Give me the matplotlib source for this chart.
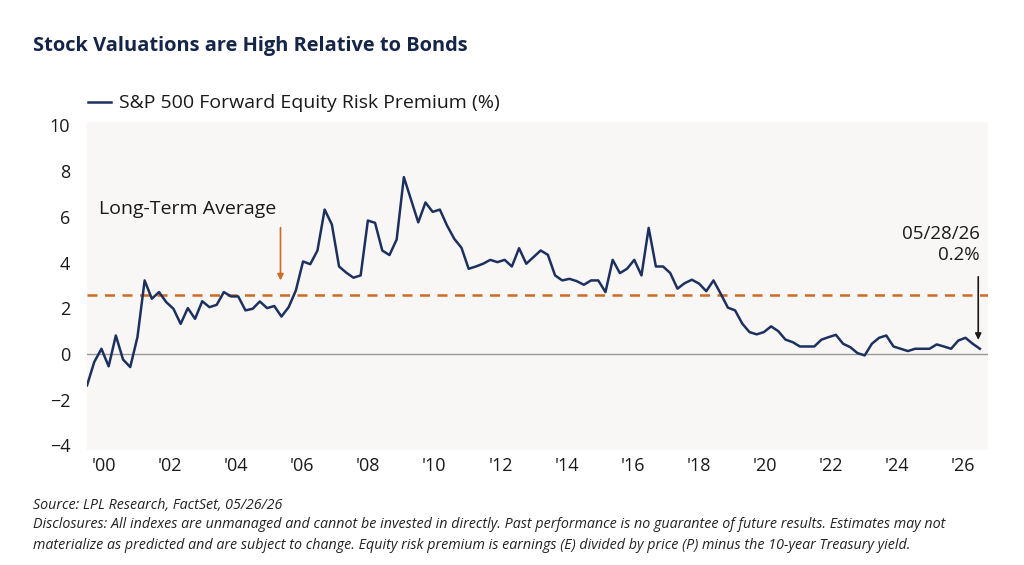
import numpy as np
import matplotlib.pyplot as plt

# S&P 500 forward equity risk premium (%)
erp = [
    -1.37, -0.35, 0.23, -0.54, 0.81, -0.24, -0.57, 0.74, 3.22, 2.42,
    2.71, 2.27, 1.98, 1.32, 2.01, 1.54, 2.31, 2.05, 2.15, 2.71,
    2.52, 2.52, 1.91, 1.98, 2.30, 2.01, 2.10, 1.64, 2.05, 2.78,
    4.05, 3.93, 4.53, 6.32, 5.67, 3.83, 3.56, 3.34, 3.44, 5.84,
    5.74, 4.53, 4.33, 5.01, 7.74, 6.75, 5.76, 6.63, 6.22, 6.32,
    5.62, 5.04, 4.65, 3.73, 3.83, 3.95, 4.12, 4.02, 4.12, 3.83,
    4.63, 3.95, 4.24, 4.53, 4.34, 3.44, 3.22, 3.29, 3.19, 3.03,
    3.22, 3.22, 2.71, 4.12, 3.54, 3.73, 4.12, 3.44, 5.52, 3.83,
    3.83, 3.54, 2.86, 3.10, 3.25, 3.08, 2.75, 3.22, 2.64, 2.03,
    1.91, 1.33, 0.96, 0.86, 0.96, 1.21, 1.00, 0.63, 0.52, 0.33,
    0.33, 0.33, 0.63, 0.74, 0.84, 0.45, 0.30, 0.04, -0.06, 0.45,
    0.71, 0.81, 0.33, 0.23, 0.13, 0.23, 0.23, 0.23, 0.42, 0.33,
    0.23, 0.59, 0.71, 0.45, 0.23,
]
dates = np.linspace(1999.5, 2026.5, len(erp))
long_term_avg = 2.6

xticks = list(range(2000, 2027, 2))
xlabels = ["'%02d" % (y % 100) for y in xticks]
yticks = [-4, -2, 0, 2, 4, 6, 8, 10]

navy = '#1c3160'
orange = '#cf6b22'

plt.rcParams['font.family'] = ['Open Sans', 'DejaVu Sans']

fig = plt.figure(figsize=(10.24, 5.65), dpi=100)
ax = fig.add_axes([0.085, 0.2035, 0.88, 0.5805])
ax.set_facecolor('#f8f7f6')
for s in ax.spines.values():
    s.set_visible(False)

ax.axhline(0, color='#999999', lw=1.0)
ax.axhline(long_term_avg, color=orange, lw=1.8, ls=(0, (4, 3)))
ax.plot(dates, erp, color=navy, lw=1.8, label='S&P 500 Forward Equity Risk Premium (%)')

ax.set_xlim(1999.5, 2026.75)
ax.set_ylim(-4.2, 10.15)
ax.set_xticks(xticks)
ax.set_xticklabels(xlabels)
ax.set_yticks(yticks)
ax.tick_params(length=0, labelsize=13, colors='#1a1a1a')
ax.tick_params(axis='y', pad=12)
ax.tick_params(axis='x', pad=5)

ax.text(1999.85, 6.33, 'Long-Term Average', fontsize=14, va='center', ha='left', color='#1a1a1a')
ax.annotate('', xy=(2005.35, 3.1), xytext=(2005.35, 5.65),
            arrowprops=dict(arrowstyle='-|>', color=orange, lw=1.2, mutation_scale=9))

ax.text(2026.5, 4.8, '05/28/26\n0.2%', fontsize=13.5, ha='right', va='center',
        color='#1a1a1a', linespacing=1.2)
ax.annotate('', xy=(2026.45, 0.5), xytext=(2026.45, 3.5),
            arrowprops=dict(arrowstyle='-|>', color='#1a1a1a', lw=1.2, mutation_scale=9))

leg = ax.legend(loc='lower left', bbox_to_anchor=(-0.01, 1.0), frameon=False,
                fontsize=14, handlelength=1.2, handletextpad=0.4, borderaxespad=0.1)
for t in leg.get_texts():
    t.set_color('#1a1a1a')

fig.text(0.032, 0.918, 'Stock Valuations are High Relative to Bonds', fontsize=14.4,
         fontweight='bold', color='#15254a', ha='left', va='center')

foot = dict(fontsize=10.3, style='italic', color='#222222', ha='left', va='center')
fig.text(0.032, 0.106, 'Source: LPL Research, FactSet, 05/26/26', **foot)
fig.text(0.032, 0.071, 'Disclosures: All indexes are unmanaged and cannot be invested in directly. '
         'Past performance is no guarantee of future results. Estimates may not', **foot)
fig.text(0.032, 0.035, 'materialize as predicted and are subject to change. Equity risk premium is '
         'earnings (E) divided by price (P) minus the 10-year Treasury yield.', **foot)

fig.savefig('out.png', dpi=100, facecolor='white')
